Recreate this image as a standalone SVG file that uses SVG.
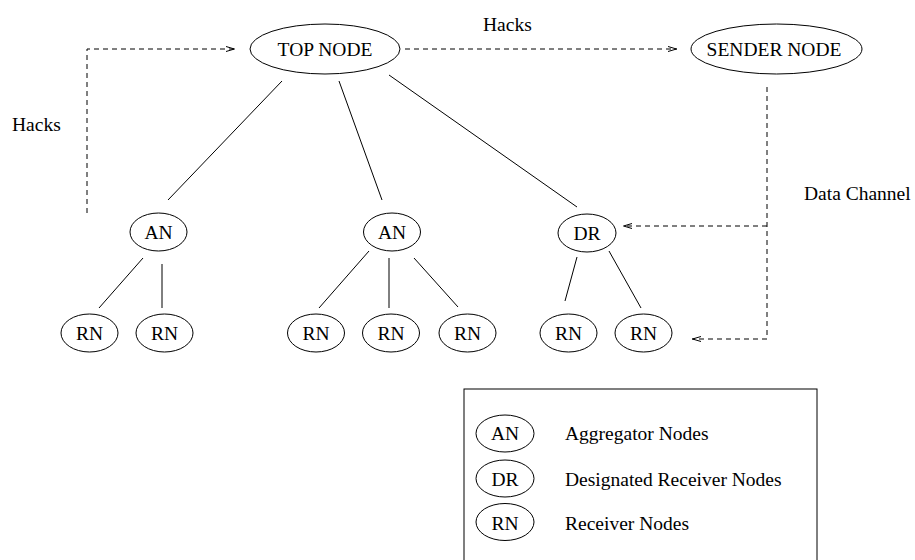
<svg xmlns="http://www.w3.org/2000/svg" width="915" height="560" viewBox="0 0 915 560">
<style>
text{font-family:"Liberation Serif","Times New Roman",serif;font-size:19.5px;fill:#000}
.c{text-anchor:middle}
ellipse{fill:#fff;stroke:#000;stroke-width:1}
.e{stroke:#000;stroke-width:1;fill:none}
.d{stroke:#000;stroke-width:1;fill:none;stroke-dasharray:5,4}
</style>
<defs>
<marker id="ah" viewBox="0 0 10 8" refX="10" refY="4" markerWidth="10" markerHeight="8" markerUnits="userSpaceOnUse" orient="auto">
<path d="M1,1.5 L9.5,4 L1,6.5" fill="none" stroke="#000" stroke-width="1"/>
</marker>
</defs>
<rect width="915" height="560" fill="#fff"/>
<g id="connectors">
<line class="e" x1="282" y1="81" x2="168" y2="200"/>
<line class="e" x1="339" y1="81" x2="382" y2="200"/>
<line class="e" x1="389" y1="75" x2="577" y2="207"/>
<line class="e" x1="143" y1="258" x2="99" y2="308"/>
<line class="e" x1="162" y1="264" x2="162" y2="308"/>
<line class="e" x1="369" y1="251" x2="319" y2="308"/>
<line class="e" x1="389" y1="258" x2="389" y2="308"/>
<line class="e" x1="414" y1="258" x2="458" y2="307"/>
<line class="e" x1="577" y1="257" x2="565" y2="301"/>
<line class="e" x1="609" y1="251" x2="641" y2="308"/>
<path class="d" d="M87,213 L87,49 L235,49" marker-end="url(#ah)"/>
<line class="d" x1="405" y1="49" x2="677" y2="49" marker-end="url(#ah)"/>
<line class="d" x1="767" y1="87" x2="767" y2="339"/>
<line class="d" x1="767" y1="226" x2="623" y2="226" marker-end="url(#ah)"/>
<line class="d" x1="767" y1="339" x2="692" y2="339" marker-end="url(#ah)"/>
<text x="12" y="131">Hacks</text>
<text x="483" y="31">Hacks</text>
<text x="804" y="200">Data Channel</text>
</g>
<g id="top"><ellipse cx="325" cy="49" rx="75" ry="25"/><text class="c" x="325" y="56">TOP NODE</text></g>
<g id="sender"><ellipse cx="776.5" cy="49" rx="85.5" ry="25"/><text class="c" x="774" y="56">SENDER NODE</text></g>
<g id="an1"><ellipse cx="158.5" cy="232" rx="28.5" ry="19"/><text class="c" x="158.5" y="239">AN</text></g>
<g id="an2"><ellipse cx="392" cy="232" rx="28.5" ry="19"/><text class="c" x="392" y="239">AN</text></g>
<g id="dr"><ellipse cx="587" cy="233" rx="29" ry="19"/><text class="c" x="587" y="240">DR</text></g>
<g id="rn1"><ellipse cx="89.5" cy="333" rx="28.5" ry="19"/><text class="c" x="89.5" y="340">RN</text></g>
<g id="rn2"><ellipse cx="164.5" cy="333" rx="28.5" ry="19"/><text class="c" x="164.5" y="340">RN</text></g>
<g id="rn3"><ellipse cx="316" cy="333" rx="28.5" ry="19"/><text class="c" x="316" y="340">RN</text></g>
<g id="rn4"><ellipse cx="391" cy="333" rx="28.5" ry="19"/><text class="c" x="391" y="340">RN</text></g>
<g id="rn5"><ellipse cx="467.5" cy="333" rx="28.5" ry="19"/><text class="c" x="467.5" y="340">RN</text></g>
<g id="rn6"><ellipse cx="568.5" cy="333" rx="28.5" ry="19"/><text class="c" x="568.5" y="340">RN</text></g>
<g id="rn7"><ellipse cx="643.5" cy="333" rx="28.5" ry="19"/><text class="c" x="643.5" y="340">RN</text></g>
<g id="legend">
<rect x="464" y="389" width="353" height="175" fill="none" stroke="#000" stroke-width="1"/>
<ellipse cx="505" cy="433.5" rx="29" ry="18.5"/><text class="c" x="505" y="440">AN</text>
<text x="565" y="440">Aggregator Nodes</text>
<ellipse cx="505" cy="478.5" rx="29" ry="18.5"/><text class="c" x="505" y="486">DR</text>
<text x="565" y="486">Designated Receiver Nodes</text>
<ellipse cx="505" cy="522" rx="29" ry="18.5"/><text class="c" x="505" y="530">RN</text>
<text x="565" y="530">Receiver Nodes</text>
</g>
</svg>
